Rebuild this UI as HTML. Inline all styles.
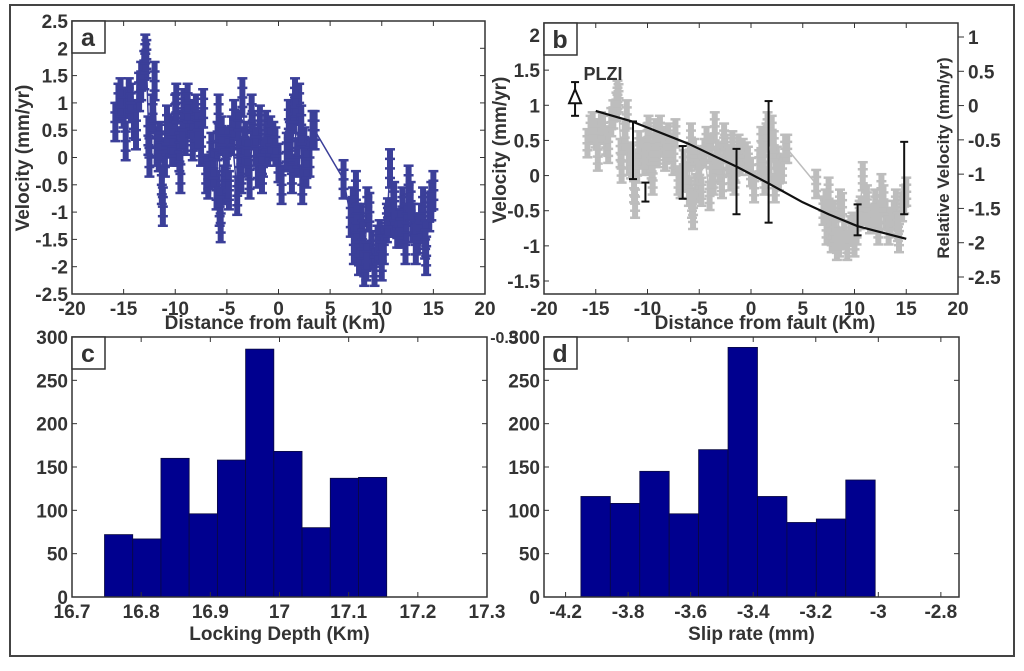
<!DOCTYPE html>
<html><head><meta charset="utf-8"><style>
html,body{margin:0;padding:0;background:#fff;}
svg{display:block;font-family:"Liberation Sans",sans-serif;font-weight:bold;}
text{fill:#333;}
</style></head><body>
<svg id="fig" width="1024" height="671" viewBox="0 0 1024 671">
<rect x="10" y="5" width="1004" height="651" fill="none" stroke="#444" stroke-width="2"/>
</svg>
<script>
// ---- panel a data ----
const aX = [-15.8,-15.5,-15,-14.5,-14,-13.5,-13,-12.8,-12.5,-12,-11.8,-11.5,-11.2,-11,-10.5,-10,-9.8,-9.5,-9.2,-9,-8.5,-8,-7.5,-7,-6.5,-6,-5.8,-5.6,-5.3,-5,-4.5,-4,-3.8,-3.5,-3.2,-2.8,-2.5,-2,-1.8,-1.5,-1,-0.5,0,0.3,0.8,1,1.3,1.5,1.8,2,2.3,2.5,3,3.5,6.3,7,7.3,7.5,7.8,8,8.3,8.6,9,9.3,9.8,10.2,10.5,10.8,11,11.5,12,12.3,12.6,13,13.5,14,14.3,14.6,15];
const aV = [0.65,1.0,0.9,1.1,0.7,1.2,1.6,1.8,0.0,1.4,0.2,0.3,-0.9,0.0,0.4,0.8,0.2,-0.3,0.9,0.4,0.7,0.8,0.2,-0.3,0.1,-0.6,0.8,-1.2,-0.5,0.2,0.4,-0.7,0.0,1.1,0.3,-0.4,0.5,-0.2,0.6,0.0,0.2,0.3,-0.1,-0.5,0.1,0.7,-0.3,0.8,0.0,1.0,-0.5,0.2,0.0,0.5,-0.4,-1.1,-1.6,-0.6,-1.8,-1.2,-2.0,-0.9,-1.7,-2.0,-1.5,-1.6,-1.2,-0.2,-1.1,-1.3,-0.9,-1.6,-0.5,-1.2,-1.4,-0.9,-1.8,-1.0,-0.6];
const aX2 = [-15.3,-14.8,-14.3,-13.8,-13.3,-12.9,-12.6,-12.2,-11.6,-11.3,-10.8,-10.3,-9.9,-9.6,-9.3,-8.8,-8.3,-7.8,-7.3,-6.8,-6.3,-5.9,-5.7,-5.5,-5.1,-4.8,-4.3,-3.9,-3.6,-3.3,-3.0,-2.6,-2.2,-1.6,-1.2,-0.8,-0.3,1.1,1.6,2.2,2.7,3.3,7.2,7.6,8.1,8.5,8.8,9.6,10.0,10.6,11.2,11.8,12.4,12.8,13.3,13.8,14.2,14.8];
const aV2 = [1.1,0.3,1.0,0.5,1.4,1.9,0.4,0.8,0.1,-0.5,0.6,0.2,1.0,0.1,0.5,1.0,0.3,0.5,0.9,-0.4,-0.2,0.3,-0.9,0.4,-0.2,-0.6,0.7,0.5,-0.3,0.2,0.0,0.8,0.2,-0.3,0.5,0.4,0.2,0.3,1.1,0.6,-0.2,0.5,-0.9,-1.2,-1.5,-1.9,-1.0,-1.6,-1.9,-1.1,-0.8,-1.3,-1.2,-0.8,-1.6,-1.2,-1.5,-0.8];
const aErr = 0.35;
const aXTicks = [-20,-15,-10,-5,0,5,10,15,20];
const aYTicks = [-2.5,-2,-1.5,-1,-0.5,0,0.5,1,1.5,2,2.5];
// ---- panel b data ----
const bV = [0.46,0.65,0.6,0.7,0.5,0.76,0.98,1.1,0.1,0.87,0.21,0.27,-0.4,0.1,0.32,0.54,0.21,-0.07,0.6,0.32,0.49,0.54,0.21,-0.07,0.16,-0.23,0.54,-0.56,-0.18,0.21,0.32,-0.29,0.1,0.7,0.27,-0.12,0.38,-0.01,0.43,0.1,0.21,0.27,0.05,-0.18,0.16,0.49,-0.07,0.54,0.1,0.65,-0.18,0.21,0.1,0.38,-0.12,-0.5,-0.78,-0.23,-0.89,-0.56,-1.0,-0.4,-0.84,-1.0,-0.73,-0.78,-0.56,-0.01,-0.5,-0.62,-0.4,-0.78,-0.18,-0.56,-0.67,-0.4,-0.89,-0.45,-0.23];
const bV2 = [0.7,0.27,0.65,0.38,0.87,1.15,0.32,0.54,0.16,-0.18,0.43,0.21,0.65,0.16,0.38,0.65,0.27,0.38,0.6,-0.12,-0.01,0.27,-0.4,0.32,-0.01,-0.23,0.49,0.38,-0.07,0.21,0.1,0.54,0.21,-0.07,0.38,0.32,0.21,0.27,0.7,0.43,-0.01,0.38,-0.4,-0.56,-0.73,-0.95,-0.45,-0.78,-0.95,-0.5,-0.34,-0.62,-0.56,-0.34,-0.78,-0.56,-0.73,-0.34];
const bErr = 0.2;
const modelX = [-15,-11.5,-6,-1.3,1.8,5,7.5,10.3,15];
const modelV = [0.92,0.77,0.45,0.12,-0.12,-0.38,-0.55,-0.72,-0.9];
const gpsX = [-11.4,-10.2,-6.6,-1.4,1.7,10.3,14.8];
const gpsLo = [-0.05,-0.37,-0.33,-0.55,-0.67,-0.85,-0.55];
const gpsHi = [0.77,-0.1,0.42,0.38,1.06,-0.41,0.48];
const plziX = -17, plziV = 1.1, plziLo = 0.85, plziHi = 1.33;
const bYTicks = [-1.5,-1,-0.5,0,0.5,1,1.5,2];
const bRTicks = [-2.5,-2,-1.5,-1,-0.5,0,0.5,1];
// ---- panel c data ----
const cCounts = [72,67,160,96,158,286,168,80,137,138];
const cStart = 16.747, cWidth = 0.0408;
const cXTicks = [16.7,16.8,16.9,17,17.1,17.2,17.3];
const histYTicks = [0,50,100,150,200,250,300];
// ---- panel d data ----
const dCounts = [116,108,145,96,170,288,116,86,90,135];
const dStart = -3.951, dWidth = 0.0941;
const dXTicks = [-4,-3.8,-3.6,-3.4,-3.2,-3,-2.8];
const dXLabels = ["-4.2","-3.8","-3.6","-3.4","-3.2","-3","-2.8"];

const NS="http://www.w3.org/2000/svg";
const svg=document.getElementById('fig');
function el(tag,attrs,parent){const e=document.createElementNS(NS,tag);for(const k in attrs)e.setAttribute(k,attrs[k]);(parent||svg).appendChild(e);return e;}
function lin(d0,d1,r0,r1){return v=>r0+(v-d0)*(r1-r0)/(d1-d0);}
function txt(s,x,y,size,anchor,parent,rot){const t=el('text',{x:x,y:y,'font-size':size,'text-anchor':anchor||'middle'},parent);if(rot)t.setAttribute('transform',`rotate(-90 ${x} ${y})`);t.textContent=s;return t;}
function frame(g,L,T,R,B){el('rect',{x:L,y:T,width:R-L,height:B-T,fill:'none',stroke:'#333','stroke-width':1.5},g);}
function label(g,L,T,ch){const r=el('rect',{x:L,y:T,width:33,height:32,fill:'#fff',stroke:'#333','stroke-width':1.5},g);txt(ch,L+16,T+25,25,'middle',g);}
function ebar(g,px,y1,y2,col,name){
 const e=el('g',{stroke:col,'stroke-width':2.5},g);
 
 el('line',{x1:px,x2:px,y1:y1,y2:y2,'stroke-width':6},e);
 const n=4;for(let k=0;k<=n;k++){const y=y1+(y2-y1)*k/n;el('line',{x1:px-5,x2:px+5,y1:y,y2:y},e);}
}
const TF=19;

// ===== Panel a =====
const ga=el('g',{});

const axX=lin(-20,20,72,485), axY=lin(2.5,-2.5,21,294);
{
 let d='';aX.forEach((x,i)=>{d+=(i?'L':'M')+axX(x)+' '+axY(aV[i]);});
 const p=el('path',{d:d,fill:'none',stroke:'#3b3f99','stroke-width':1.5},ga);
 
 aX.forEach((x,i)=>ebar(ga,axX(x),axY(aV[i]+aErr),axY(aV[i]-aErr),'#3b3f99','error-bar-a'));
 aX2.forEach((x,i)=>ebar(ga,axX(x),axY(aV2[i]+aErr),axY(aV2[i]-aErr),'#3b3f99','error-bar-a'));
 frame(ga,72,21,485,294);
 aXTicks.forEach(v=>{const x=axX(v);el('line',{x1:x,x2:x,y1:294,y2:289,stroke:'#333'},ga);el('line',{x1:x,x2:x,y1:21,y2:26,stroke:'#333'},ga);txt(String(v),x,315,TF,'middle',ga);});
 aYTicks.forEach(v=>{const y=axY(v);el('line',{x1:72,x2:77,y1:y,y2:y,stroke:'#333'},ga);el('line',{x1:485,x2:480,y1:y,y2:y,stroke:'#333'},ga);txt(String(v),68,y+7,TF,'end',ga);});
 txt('Distance from fault (Km)',275,329,19,'middle',ga);
 txt('Velocity (mm/yr)',29,158,19,'middle',ga,true);
 label(ga,72,21,'a');
}

// ===== Panel b =====
const gb=el('g',{});

const BL=544,BR=958;
const bxX=lin(-20,20,BL,BR), byY=lin(2,-1.5,35,281), brY=lin(1,-2.5,37,277);
{
 let d='';aX.forEach((x,i)=>{d+=(i?'L':'M')+bxX(x)+' '+byY(bV[i]);});
 const p=el('path',{d:d,fill:'none',stroke:'#bdbdbd','stroke-width':1.5},gb);
 
 aX.forEach((x,i)=>ebar(gb,bxX(x),byY(bV[i]+bErr),byY(bV[i]-bErr),'#bdbdbd','error-bar-b'));
 aX2.forEach((x,i)=>ebar(gb,bxX(x),byY(bV2[i]+bErr),byY(bV2[i]-bErr),'#bdbdbd','error-bar-b'));
 let m='';modelX.forEach((x,i)=>{m+=(i?'L':'M')+bxX(x)+' '+byY(modelV[i]);});
 const mc=el('path',{d:m,fill:'none',stroke:'#111','stroke-width':2.2,'stroke-linejoin':'round'},gb);
 
 gpsX.forEach((x,i)=>{
  const px=bxX(x),y1=byY(gpsHi[i]),y2=byY(gpsLo[i]);
  const g=el('g',{stroke:'#111','stroke-width':2},gb);
  
  el('line',{x1:px,x2:px,y1:y1,y2:y2},g);
  el('line',{x1:px-4,x2:px+4,y1:y1,y2:y1},g);
  el('line',{x1:px-4,x2:px+4,y1:y2,y2:y2},g);
 });
 {const px=bxX(plziX);const g=el('g',{stroke:'#111','stroke-width':2},gb);
  
  el('line',{x1:px,x2:px,y1:byY(plziHi),y2:byY(plziLo)},g);
  el('line',{x1:px-4,x2:px+4,y1:byY(plziHi),y2:byY(plziHi)},g);
  el('line',{x1:px-4,x2:px+4,y1:byY(plziLo),y2:byY(plziLo)},g);
  const yc=byY(plziV);el('polygon',{points:`${px},${yc-9} ${px-6},${yc+5} ${px+6},${yc+5}`,fill:'#fff'},g);
  txt('PLZI',603,80,18,'middle',gb);}
 frame(gb,BL,23,BR,294);
 aXTicks.forEach(v=>{const x=bxX(v);el('line',{x1:x,x2:x,y1:294,y2:289,stroke:'#333'},gb);el('line',{x1:x,x2:x,y1:23,y2:28,stroke:'#333'},gb);txt(String(v),x,315,TF,'middle',gb);});
 bYTicks.forEach(v=>{const y=byY(v);el('line',{x1:BL,x2:BL+5,y1:y,y2:y,stroke:'#333'},gb);txt(String(v),540,y+7,TF,'end',gb);});
 bRTicks.forEach(v=>{const y=brY(v);el('line',{x1:BR,x2:BR+6,y1:y,y2:y,stroke:'#333'},gb);txt(String(v),968,y+7,TF,'start',gb);});
 txt('Distance from fault (Km)',765,329,19,'middle',gb);
 txt('Velocity (mm/yr)',506,150,19,'middle',gb,true);
 txt('Relative Velocity (mm/yr)',949,158,17,'middle',gb,true);
 txt('-0.5',504,343,16,'middle',gb);
 label(gb,BL,23,'b');
}

// ===== histograms =====
function hist(name,L,R,xd0,xd1,counts,start,width,ticks,labels,xlabel,lch){
 const g=el('g',{});
 
 const X=lin(xd0,xd1,L,R),Y=lin(0,300,597,337);
 counts.forEach((c,i)=>{const x0=X(start+i*width),x1=X(start+(i+1)*width);
  const r=el('rect',{x:x0,y:Y(c),width:x1-x0,height:597-Y(c),fill:'#00008f',stroke:'#0a0a40','stroke-width':0.8},g);
  });
 frame(g,L,337,R,597);
 ticks.forEach((v,i)=>{const x=X(v);el('line',{x1:x,x2:x,y1:597,y2:592,stroke:'#333'},g);el('line',{x1:x,x2:x,y1:337,y2:342,stroke:'#333'},g);txt(labels[i],x,618,TF,'middle',g);});
 histYTicks.forEach(v=>{const y=Y(v);el('line',{x1:L,x2:L+5,y1:y,y2:y,stroke:'#333'},g);el('line',{x1:R,x2:R-5,y1:y,y2:y,stroke:'#333'},g);txt(String(v),L-4,y+7,TF,'end',g);});
 txt(xlabel,(L+R)/2,640,19,'middle',g);
 label(g,L,337,lch);
}
hist('panel-c',72,487,16.7,17.3,cCounts,cStart,cWidth,cXTicks,cXTicks.map(String),'Locking Depth (Km)','c');
hist('panel-d',544,959,-4.069,-2.742,dCounts,dStart,dWidth,dXTicks,dXLabels,'Slip rate (mm)','d');
</script>
</body></html>
